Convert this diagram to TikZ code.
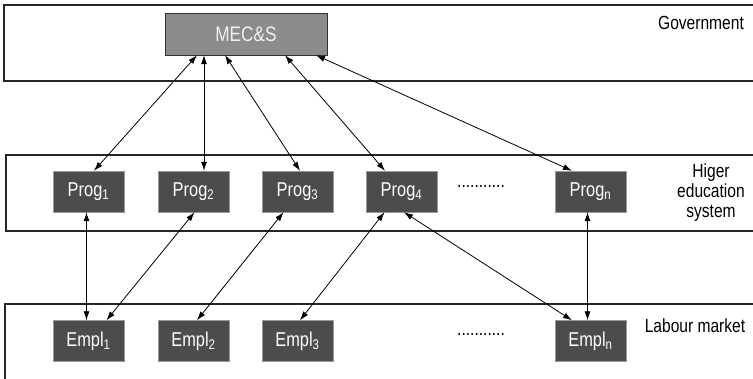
\documentclass[tikz,border=0pt]{standalone}
\usepackage{fontspec}
\setmainfont{Liberation Sans}[FakeStretch=0.82]
\usetikzlibrary{arrows.meta}

\begin{document}
\begin{tikzpicture}[x=1pt,y=-1pt,
  layer/.style={line width=1.6pt,draw=black!85},
  ministry/.style={draw=black!80,fill=black!45,text=black!5,minimum width=162pt,minimum height=42pt,inner sep=0pt,font=\fontsize{21}{24}\selectfont},
  unit/.style={draw=black!40,fill=black!70,text=white,minimum width=71pt,minimum height=41pt,inner sep=0pt,font=\fontsize{20}{23}\selectfont},
  tag/.style={align=center,font=\fontsize{19}{20}\selectfont},
  link/.style={{Latex[length=9pt,width=6pt]}-{Latex[length=9pt,width=6pt]},line width=0.8pt}]
\clip (0,0) rectangle (753,379);

\draw[layer] (4,5) rectangle (790,81);
\node[ministry] (mecs) at (246,34) {MEC\&S};
\node[tag] (gov) at (701,23) {Government};

\draw[layer] (6,155) rectangle (790,231);
\node[unit] (prog1) at (88.5,191.5) {Prog\textsubscript{1}};
\node[unit] (prog2) at (193.5,191.5) {Prog\textsubscript{2}};
\node[unit] (prog3) at (297.5,191.5) {Prog\textsubscript{3}};
\node[unit] (prog4) at (401.5,191.5) {Prog\textsubscript{4}};
\node[tag] (progdots) at (481,186) {...........};
\node[unit] (progn) at (590.5,191.5) {Prog\textsubscript{n}};
\node[tag] (hes) at (711,193) {Higer\\education\\system};

\draw[layer] (5,304) rectangle (790,420);
\node[unit] (empl1) at (88.5,341) {Empl\textsubscript{1}};
\node[unit] (empl2) at (193.5,341) {Empl\textsubscript{2}};
\node[unit] (empl3) at (297.5,341) {Empl\textsubscript{3}};
\node[tag] (empldots) at (481,334) {...........};
\node[unit] (empln) at (590.5,341) {Empl\textsubscript{n}};
\node[tag] (labour) at (695,326) {Labour market};

\draw[link] ([xshift=-49pt]mecs.south) -- ([xshift=5.5pt]prog1.north);
\draw[link] ([xshift=-42pt]mecs.south) -- ([xshift=10.5pt]prog2.north);
\draw[link] ([xshift=-21pt]mecs.south) -- ([xshift=2.5pt]prog3.north);
\draw[link] ([xshift=39pt]mecs.south) -- ([xshift=-16.5pt]prog4.north);
\draw[link] ([xshift=70pt]mecs.south) -- ([xshift=-18.5pt]progn.north);

\draw[link] ([xshift=-2pt]prog1.south) -- ([xshift=-2pt]empl1.north);
\draw[link] ([xshift=1pt]prog2.south) -- ([xshift=18pt]empl1.north);
\draw[link] ([xshift=-14pt]prog3.south) -- ([xshift=3.5pt]empl2.north);
\draw[link] ([xshift=-17pt]prog4.south) -- ([xshift=2.5pt]empl3.north);
\draw[link] ([xshift=2.5pt]prog4.south) -- ([xshift=-18.5pt]empln.north);
\draw[link] ([xshift=-3pt]progn.south) -- ([xshift=-3pt]empln.north);
\end{tikzpicture}
\end{document}
